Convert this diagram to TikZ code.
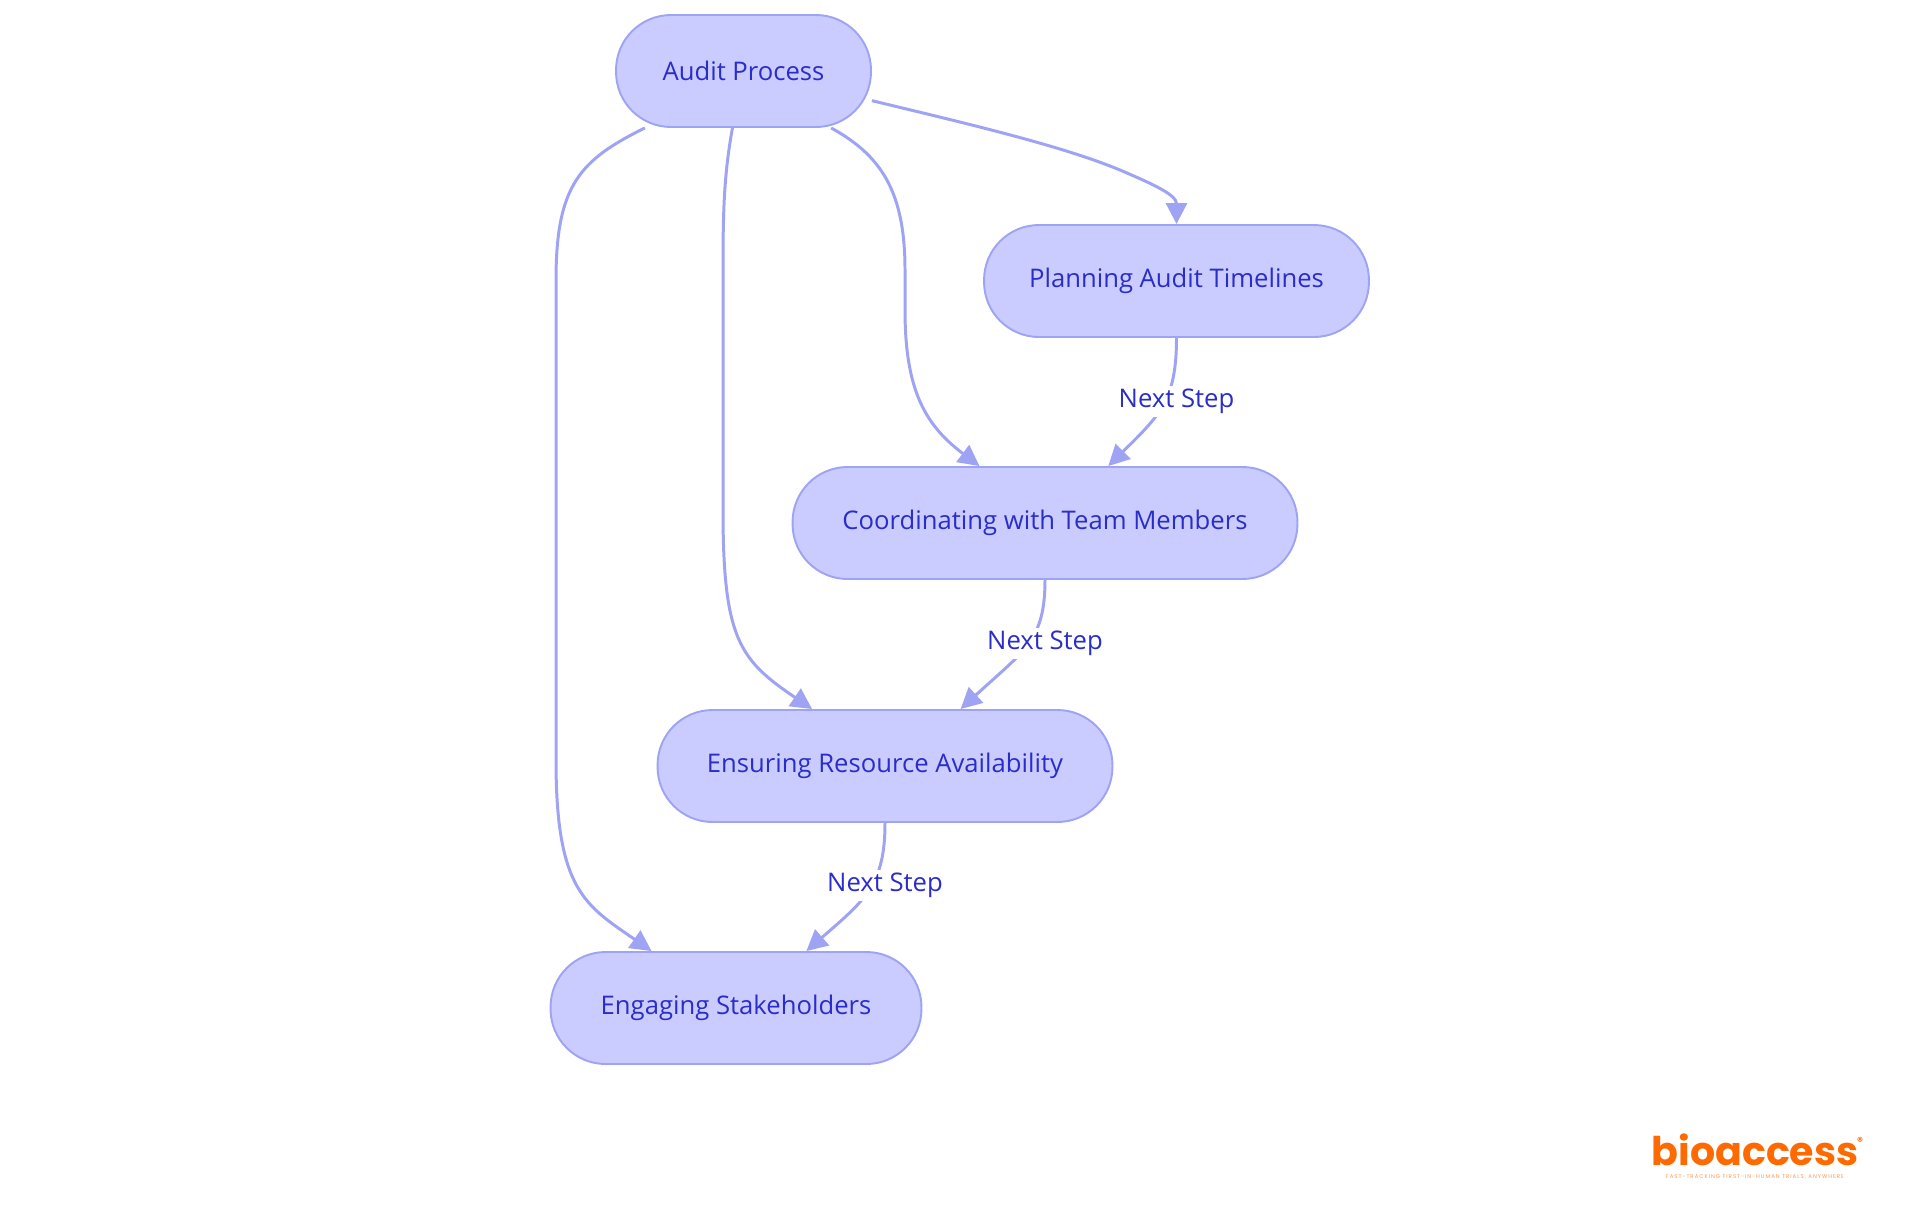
\documentclass[tikz,border=0pt]{standalone}
\usepackage{xcolor}
\usepackage{fontspec}
\setmainfont{Open Sans}
\newfontfamily\logofont{Poppins}
\newfontfamily\tagfont[LetterSpace=18]{Poppins}
\usetikzlibrary{arrows.meta}
\definecolor{nodefill}{RGB}{202,203,255}
\definecolor{nodeline}{RGB}{159,163,243}
\definecolor{nodetext}{RGB}{42,45,200}
\definecolor{logoorange}{RGB}{255,106,0}
\begin{document}
\begin{tikzpicture}[x=0.02cm,y=-0.02cm]
   \useasboundingbox (0,0) rectangle (1920,1215);
   \tikzstyle{stage}=[draw=nodeline,line width=1.1pt,fill=nodefill,text=nodetext,rounded corners=1.1cm,minimum height=2.24cm,font=\fontsize{14.6}{17}\selectfont];
   \tikzstyle{link}=[draw=nodeline,line width=1.7pt,-{Triangle[length=0.42cm,width=0.42cm]}];
   \tikzstyle{steplabel}=[fill=white,text=nodetext,inner sep=1pt,minimum height=0.62cm,font=\fontsize{14.6}{17}\selectfont];
   \foreach \n/\x/\y/\w/\t in {audit/743.5/71/5.1/Audit Process,
      planning/1176.5/281/7.7/Planning Audit Timelines,
      team/1045/523/10.1/Coordinating with Team Members,
      resource/885/766/9.1/Ensuring Resource Availability,
      stake/736/1008/7.42/Engaging Stakeholders}
      \node[stage,minimum width=\w cm] (\n) at (\x,\y) {\t};
   \draw[link] (audit.-13.7) .. controls (960,122) and (1060,145) .. (1120,170) .. controls (1155,185) and (1176.5,195) .. (planning.north);
   \draw[link] (audit.-33.2) .. controls (880,155) and (905,190) .. (905,270) -- (905,310) .. controls (905,390) and (925,425) .. (team.139.3);
   \draw[link] (audit.-101.6) .. controls (724,175) and (723,210) .. (723,270) -- (723,510) .. controls (723,640) and (740,660) .. (resource.142.9);
   \draw[link] (audit.-150.6) .. controls (580,160) and (556,185) .. (556,280) -- (556,760) .. controls (556,890) and (585,905) .. (stake.146.2);
   \draw[link] (planning.south) .. controls (1176.5,400) and (1160,415) .. (team.42);
   \draw[link] (team.south) .. controls (1045,640) and (1025,650) .. (resource.37);
   \draw[link] (resource.south) .. controls (885,885) and (865,900) .. (stake.39);
   \foreach \n/\x/\y in {labela/1176.5/401,labelb/1045/643,labelc/885/885}
      \node[steplabel] (\n) at (\x,\y) {Next Step};
   % logo
   \node[text=logoorange,inner sep=0pt,font=\logofont\bfseries\fontsize{22.5}{24}\selectfont] (logo) at (1755,1150) {bioaccess};
   \node[text=logoorange,inner sep=0pt,font=\logofont\bfseries\fontsize{6.5}{7}\selectfont] (logomark) at (1860,1141) {®};
   \node[text=logoorange!70,inner sep=0pt,font=\tagfont\fontsize{3.1}{4}\selectfont] (logotag) at (1755,1177) {FAST-TRACKING FIRST-IN-HUMAN TRIALS, ANYWHERE};
\end{tikzpicture}
\end{document}
